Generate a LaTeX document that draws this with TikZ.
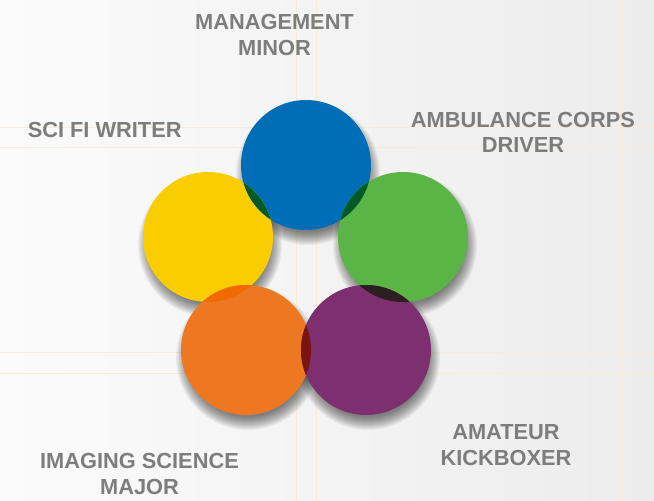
\documentclass[tikz,border=0pt]{standalone}
\usepackage{fontspec}
\setmainfont{Liberation Sans}
\begin{document}
\definecolor{bgleft}{HTML}{FBFBFB}
\definecolor{bgright}{HTML}{ECECEC}
\definecolor{gridline}{HTML}{F4EED6}
\definecolor{labelgray}{HTML}{7D7D7D}
\definecolor{cblue}{HTML}{006EB6}
\definecolor{cyellow}{HTML}{F9CD00}
\definecolor{cgreen}{HTML}{5AB446}
\definecolor{corange}{HTML}{EE7721}
\definecolor{cpurple}{HTML}{7E2F6F}
\definecolor{lensblueyellow}{HTML}{005A28}
\definecolor{lensbluegreen}{HTML}{005A28}
\definecolor{lensorangeyellow}{HTML}{F06A00}
\definecolor{lensorangepurple}{HTML}{7A1410}
\definecolor{lenspurplegreen}{HTML}{2B1F1F}
\begin{tikzpicture}[x=1pt,y=-1pt,
  lbl/.style={font=\fontsize{21.8}{25.5}\selectfont\bfseries, text=labelgray,
              align=center, inner sep=0pt, anchor=base},
  gridrule/.style={gridline, line width=0.9pt}]
  \def\R{65pt}
  % canvas and background gradient
  \useasboundingbox (0,0) rectangle (654,501);
  \shade[left color=bgleft, right color=bgright] (0,0) rectangle (654,501);
  % faint guide rules
  \foreach \yy in {127,147,352,373}
    \draw[gridrule] (0,\yy) -- (654,\yy);
  \foreach \xx in {296,316,620}
    \draw[gridrule] (\xx,0) -- (\xx,501);
  % circle centres
  \coordinate (mgmt)  at (306,165);
  \coordinate (scifi) at (208,237);
  \coordinate (ambul) at (403,237);
  \coordinate (imag)  at (246,350);
  \coordinate (kick)  at (366,350);
  % soft drop shadows beneath all discs
  \foreach \c in {mgmt,scifi,ambul,imag,kick}
    \foreach \k in {0,...,13}
      \fill[black, opacity=0.042] ([shift={(2,8)}]\c) circle[radius={(72-\k)*1pt}];
  % discs
  \fill[cblue]   (mgmt)  circle[radius=\R];
  \fill[cyellow] (scifi) circle[radius=\R];
  \fill[cgreen]  (ambul) circle[radius=\R];
  \fill[corange] (imag)  circle[radius=\R];
  \fill[cpurple] (kick)  circle[radius=\R];
  % darker lenses where neighbouring discs overlap
  \begin{scope}\clip (mgmt) circle[radius=\R];
    \fill[lensblueyellow] (scifi) circle[radius=\R];
    \fill[lensbluegreen] (ambul) circle[radius=\R];
  \end{scope}
  \begin{scope}\clip (imag) circle[radius=\R];
    \fill[lensorangeyellow] (scifi) circle[radius=\R];
    \fill[lensorangepurple] (kick) circle[radius=\R];
  \end{scope}
  \begin{scope}\clip (kick) circle[radius=\R];
    \fill[lenspurplegreen] (ambul) circle[radius=\R];
  \end{scope}
  % labels (anchored at the baseline of their last line)
  \node[lbl] (mgmtlabel)  at (274.5,55)  {MANAGEMENT\\MINOR};
  \node[lbl] (scifilabel) at (104.7,137.7) {SCI FI WRITER};
  \node[lbl] (ambullabel) at (523,152.7) {AMBULANCE CORPS\\DRIVER};
  \node[lbl] (imaglabel)  at (139.5,494) {IMAGING SCIENCE\\MAJOR};
  \node[lbl] (kicklabel)  at (506,465)   {AMATEUR\\KICKBOXER};
\end{tikzpicture}
\end{document}
